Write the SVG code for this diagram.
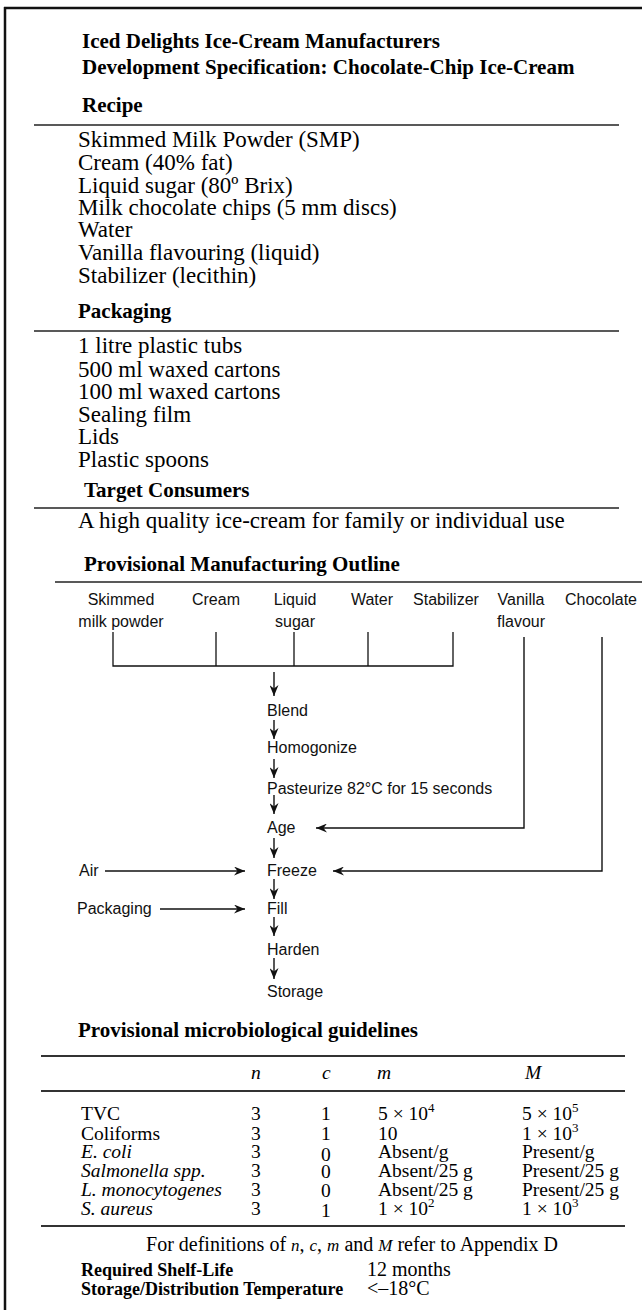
<svg xmlns="http://www.w3.org/2000/svg" width="642" height="1310" viewBox="0 0 642 1310">
<style>
.h{font-family:"Liberation Serif","Times New Roman",serif;font-weight:bold;font-size:21px;fill:#000}
.b{font-family:"Liberation Serif","Times New Roman",serif;font-size:23px;fill:#000}
.s{font-family:"Liberation Sans",Arial,sans-serif;font-size:16px;fill:#111}
.t{font-family:"Liberation Serif","Times New Roman",serif;font-size:19.5px;fill:#000}
.f{font-family:"Liberation Serif","Times New Roman",serif;font-size:20px;fill:#000}
.k{font-family:"Liberation Serif","Times New Roman",serif;font-weight:bold;font-size:18px;fill:#000}
.i{font-style:italic}
.rule{stroke:#222;stroke-width:1.5}
.trule{stroke:#333;stroke-width:2}
.ln{stroke:#111;stroke-width:1.3;fill:none}
.ar{stroke:#111;stroke-width:1.4;fill:none;marker-end:url(#ah)}
</style>
<defs>
<marker id="ah" viewBox="0 0 11 9" refX="11" refY="4.5" markerWidth="11" markerHeight="9" orient="auto" markerUnits="userSpaceOnUse">
<path d="M0,0 L11,4.5 L0,9 L3.5,4.5 Z" fill="#111"/>
</marker>
</defs>
<rect x="0" y="0" width="642" height="1310" fill="#fff"/>
<g id="frame">
<line x1="4" y1="8" x2="642" y2="8" stroke="#111" stroke-width="2.5"/>
<line x1="5" y1="7" x2="5" y2="1310" stroke="#111" stroke-width="2.5"/>
</g>
<g id="title">
<text class="h" x="82" y="48">Iced Delights Ice-Cream Manufacturers</text>
<text class="h" x="82" y="74">Development Specification: Chocolate-Chip Ice-Cream</text>
</g>
<g id="recipe">
<text class="h" x="82" y="112">Recipe</text>
<line class="rule" x1="34" y1="125" x2="619" y2="125"/>
<text class="b" x="78" y="147">Skimmed Milk Powder (SMP)</text>
<text class="b" x="78" y="170">Cream (40% fat)</text>
<text class="b" x="78" y="193">Liquid sugar (80º Brix)</text>
<text class="b" x="78" y="215">Milk chocolate chips (5 mm discs)</text>
<text class="b" x="78" y="237">Water</text>
<text class="b" x="78" y="260">Vanilla flavouring (liquid)</text>
<text class="b" x="78" y="283">Stabilizer (lecithin)</text>
</g>
<g id="packaging">
<text class="h" x="78" y="318">Packaging</text>
<line class="rule" x1="34" y1="331" x2="619" y2="331"/>
<text class="b" x="78" y="353">1 litre plastic tubs</text>
<text class="b" x="78" y="377">500 ml waxed cartons</text>
<text class="b" x="78" y="399">100 ml waxed cartons</text>
<text class="b" x="78" y="422">Sealing film</text>
<text class="b" x="78" y="444">Lids</text>
<text class="b" x="78" y="467">Plastic spoons</text>
</g>
<g id="target">
<text class="h" x="84" y="497">Target Consumers</text>
<line class="rule" x1="34" y1="508" x2="619" y2="508"/>
<text class="b" x="78" y="528">A high quality ice-cream for family or individual use</text>
</g>
<g id="outline-heading">
<text class="h" x="84" y="571">Provisional Manufacturing Outline</text>
<line class="rule" x1="55" y1="582" x2="642" y2="582"/>
</g>
<g id="in-smp"><text class="s" x="121" y="605" text-anchor="middle">Skimmed</text><text class="s" x="121" y="627" text-anchor="middle">milk powder</text></g>
<g id="in-cream"><text class="s" x="216" y="605" text-anchor="middle">Cream</text></g>
<g id="in-sugar"><text class="s" x="295" y="605" text-anchor="middle">Liquid</text><text class="s" x="295" y="627" text-anchor="middle">sugar</text></g>
<g id="in-water"><text class="s" x="372" y="605" text-anchor="middle">Water</text></g>
<g id="in-stab"><text class="s" x="446" y="605" text-anchor="middle">Stabilizer</text></g>
<g id="in-vanilla"><text class="s" x="521" y="605" text-anchor="middle">Vanilla</text><text class="s" x="521" y="627" text-anchor="middle">flavour</text></g>
<g id="in-choc"><text class="s" x="601" y="605" text-anchor="middle">Chocolate</text></g>
<g id="step-blend"><text class="s" x="267" y="716">Blend</text></g>
<g id="step-homog"><text class="s" x="267" y="753">Homogonize</text></g>
<g id="step-past"><text class="s" x="267" y="794">Pasteurize 82°C for 15 seconds</text></g>
<g id="step-age"><text class="s" x="267" y="833">Age</text></g>
<g id="step-freeze"><text class="s" x="267" y="876">Freeze</text></g>
<g id="step-fill"><text class="s" x="267" y="914">Fill</text></g>
<g id="step-harden"><text class="s" x="267" y="955">Harden</text></g>
<g id="step-storage"><text class="s" x="267" y="997">Storage</text></g>
<g id="in-air"><text class="s" x="79" y="876">Air</text></g>
<g id="in-pack"><text class="s" x="77" y="914">Packaging</text></g>
<g id="connectors">
<polyline class="ln" points="113,632 113,666 453,666 453,632"/>
<line class="ln" x1="216" y1="632" x2="216" y2="666"/>
<line class="ln" x1="294" y1="632" x2="294" y2="666"/>
<line class="ln" x1="368" y1="632" x2="368" y2="666"/>
<line class="ar" x1="274" y1="672" x2="274" y2="696"/>
<line class="ar" x1="274" y1="720" x2="274" y2="739"/>
<line class="ar" x1="274" y1="759" x2="274" y2="778"/>
<line class="ar" x1="274" y1="795" x2="274" y2="814"/>
<line class="ar" x1="274" y1="838" x2="274" y2="858"/>
<line class="ar" x1="274" y1="879" x2="274" y2="899"/>
<line class="ar" x1="274" y1="917" x2="274" y2="936"/>
<line class="ar" x1="274" y1="958" x2="274" y2="979"/>
<polyline class="ar" points="524,637 524,828 316,828"/>
<polyline class="ar" points="602,637 602,871 333,871"/>
<line class="ar" x1="105" y1="871" x2="245" y2="871"/>
<line class="ar" x1="160" y1="909" x2="245" y2="909"/>
</g>
<g id="micro">
<text class="h" x="78" y="1037">Provisional microbiological guidelines</text>
<line class="trule" x1="41" y1="1056" x2="625" y2="1056"/>
<line class="trule" x1="41" y1="1091" x2="625" y2="1091"/>
<line class="trule" x1="41" y1="1226" x2="625" y2="1226"/>
<g class="t i">
<text x="251" y="1079">n</text>
<text x="322" y="1079">c</text>
<text x="377" y="1079">m</text>
<text x="525" y="1079">M</text>
</g>
<g class="t">
<text x="81" y="1120">TVC</text>
<text x="81" y="1140">Coliforms</text>
<text x="81" y="1158" font-style="italic">E. coli</text>
<text x="81" y="1177" font-style="italic">Salmonella spp.</text>
<text x="81" y="1196" font-style="italic">L. monocytogenes</text>
<text x="81" y="1215" font-style="italic">S. aureus</text>
<text x="251" y="1120">3</text>
<text x="251" y="1140">3</text>
<text x="251" y="1158">3</text>
<text x="251" y="1177">3</text>
<text x="251" y="1196">3</text>
<text x="251" y="1215">3</text>
<text x="321" y="1120">1</text>
<text x="321" y="1140">1</text>
<text x="321" y="1161">0</text>
<text x="321" y="1178">0</text>
<text x="321" y="1197">0</text>
<text x="321" y="1217">1</text>
<text x="378" y="1120">5 × 10<tspan dy="-8" font-size="13">4</tspan></text>
<text x="378" y="1140">10</text>
<text x="378" y="1158">Absent/g</text>
<text x="378" y="1177">Absent/25 g</text>
<text x="378" y="1196">Absent/25 g</text>
<text x="378" y="1215">1 × 10<tspan dy="-8" font-size="13">2</tspan></text>
<text x="522" y="1120">5 × 10<tspan dy="-8" font-size="13">5</tspan></text>
<text x="522" y="1140">1 × 10<tspan dy="-8" font-size="13">3</tspan></text>
<text x="522" y="1158">Present/g</text>
<text x="522" y="1177">Present/25 g</text>
<text x="522" y="1196">Present/25 g</text>
<text x="522" y="1215">1 × 10<tspan dy="-8" font-size="13">3</tspan></text>
</g>
<text class="f" x="352" y="1251" text-anchor="middle">For definitions of <tspan font-style="italic" font-size="17">n</tspan>, <tspan font-style="italic" font-size="17">c</tspan>, <tspan font-style="italic" font-size="17">m</tspan> and <tspan font-style="italic" font-size="17">M</tspan> refer to Appendix D</text>
</g>
<g id="shelf">
<text class="k" x="81" y="1276">Required Shelf-Life</text>
<text class="f" x="367" y="1276">12 months</text>
<text class="k" x="81" y="1295">Storage/Distribution Temperature</text>
<text class="f" x="367" y="1295">&lt;–18°C</text>
</g>
</svg>
